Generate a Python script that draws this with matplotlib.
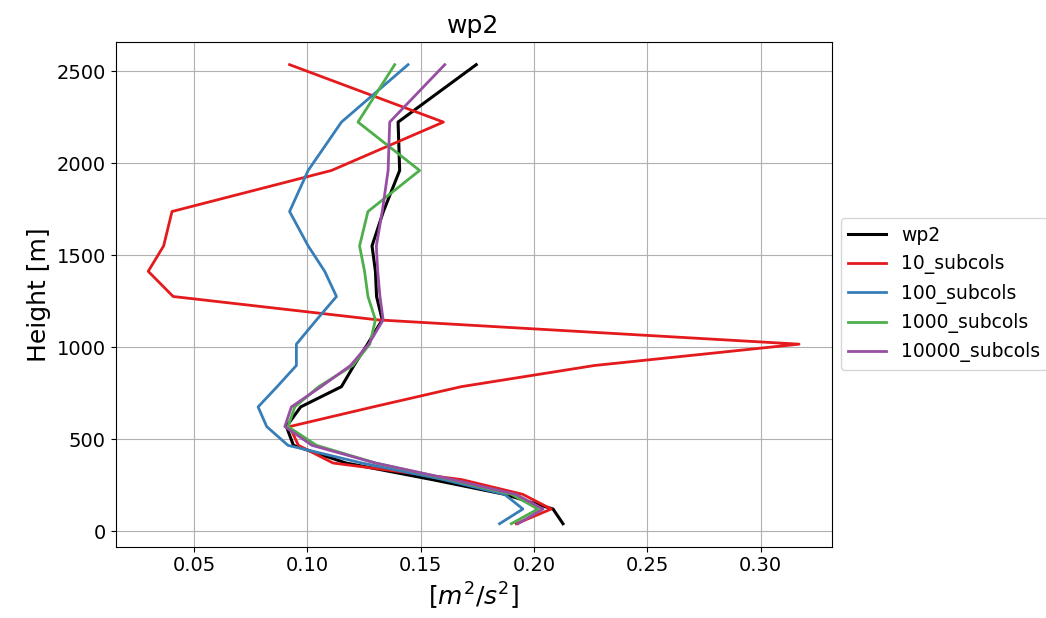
import matplotlib
matplotlib.use("Agg")
import matplotlib.pyplot as plt

# model levels [m]
height = [40, 120, 200, 280, 370, 466, 568, 675, 785, 900, 1016, 1148,
          1275, 1412, 1550, 1737, 1960, 2223, 2535]

wp2 = [0.2128, 0.2084, 0.187, 0.155, 0.117, 0.0938, 0.0907, 0.097, 0.115,
       0.1205, 0.1265, 0.1330, 0.1305, 0.1300, 0.1285, 0.1335, 0.1407,
       0.1400, 0.1745]
sub10 = [0.1922, 0.2076, 0.195, 0.168, 0.1113, 0.096, 0.0921, 0.129, 0.1679,
         0.2267, 0.317, 0.131, 0.0407, 0.0297, 0.0365, 0.0402, 0.1106,
         0.1600, 0.0921]
sub100 = [0.1848, 0.1951, 0.187, 0.160, 0.124, 0.0914, 0.082, 0.0782, 0.0866,
          0.0951, 0.0951, 0.104, 0.1128, 0.1076, 0.1003, 0.0921, 0.1003,
          0.1150, 0.1444]
sub1000 = [0.190, 0.2018, 0.190, 0.163, 0.130, 0.104, 0.0914, 0.0944, 0.105,
           0.120, 0.1275, 0.1300, 0.1267, 0.1252, 0.1230, 0.1267, 0.1495,
           0.1223, 0.1385]
sub10000 = [0.1929, 0.204, 0.192, 0.164, 0.130, 0.102, 0.090, 0.0929, 0.106,
            0.119, 0.127, 0.1334, 0.1320, 0.1310, 0.1304, 0.1330, 0.1356,
            0.1363, 0.1606]

fig = plt.figure(figsize=(10.46, 6.18), dpi=100)
ax = fig.add_axes([0.1106, 0.1154, 0.6844, 0.8171])

ax.plot(wp2, height, color="black", lw=2.2, label="wp2")
ax.plot(sub10, height, color="#e41a1c", lw=2, label="10_subcols")
ax.plot(sub100, height, color="#377eb8", lw=2, label="100_subcols")
ax.plot(sub1000, height, color="#4daf4a", lw=2, label="1000_subcols")
ax.plot(sub10000, height, color="#984ea3", lw=2, label="10000_subcols")

ax.set_title("wp2", fontsize=18)
ax.set_xlabel(r"$[m^2/s^2]$", fontsize=18)
ax.set_ylabel("Height [m]", fontsize=18)
ax.tick_params(labelsize=14)
ax.grid(True)

ax.legend(loc="center left", bbox_to_anchor=(1.0, 0.5), fontsize=13.5)

fig.savefig("out.png", dpi=100)
